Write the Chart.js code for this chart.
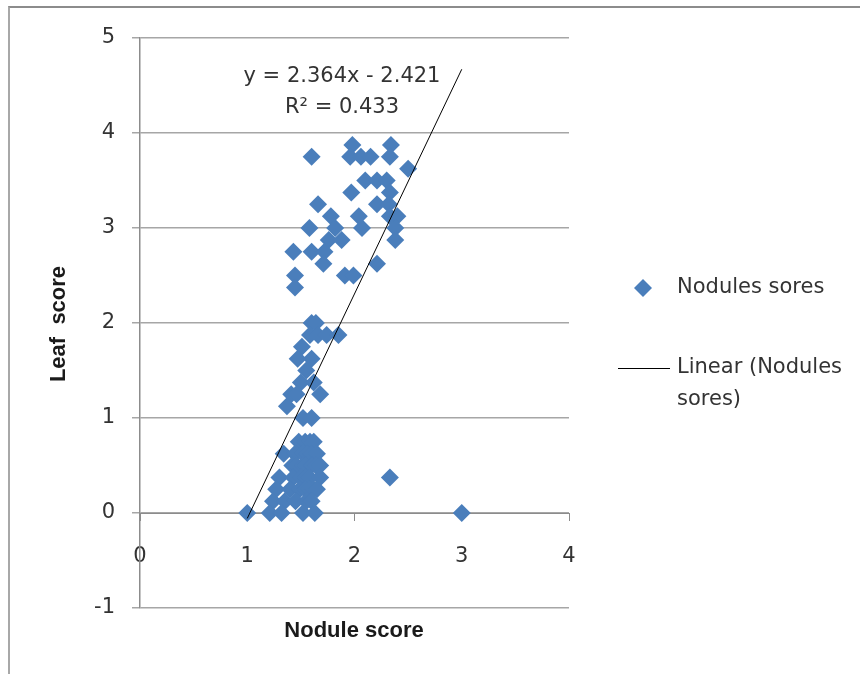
<!DOCTYPE html>
<html>
<head>
<meta charset="utf-8">
<script src="https://cdn.jsdelivr.net/npm/chart.js@4.4.1/dist/chart.umd.min.js"></script>
<style>
  html, body { margin: 0; padding: 0; background: #fff; }
  #wrap { position: relative; width: 860px; height: 674px; overflow: hidden; }
  #frame { position: absolute; left: 8px; top: 6px; width: 900px; height: 700px;
           border-top: 2px solid #8c8c8c; border-left: 2px solid #a8a8a8; }
  canvas { position: absolute; left: 0; top: 0; }
</style>
</head>
<body>
<div id="wrap">
  <div id="frame"></div>
  <canvas id="leafChart" width="860" height="674"></canvas>
</div>
<script>
// nodule score (x) and leaf score (y), one entry per plant
const nodeScore = [
  1.98, 2.34,
  1.60, 1.96, 2.06, 2.15, 2.33,
  2.50,
  2.10, 2.21, 2.30,
  1.97, 2.33,
  1.66, 2.21, 2.32,
  1.78, 2.04, 2.33, 2.40,
  1.58, 1.82, 2.07, 2.38,
  1.76, 1.88, 2.38,
  1.43, 1.60, 1.72,
  1.71, 2.21,
  1.445, 1.91, 1.99,
  1.445,
  1.60, 1.64,
  1.585, 1.66, 1.74, 1.85,
  1.51,
  1.47, 1.60,
  1.55,
  1.50, 1.62,
  1.41, 1.46, 1.68,
  1.37,
  1.52, 1.60,
  1.48, 1.54, 1.585, 1.62,
  1.34, 1.445, 1.52, 1.56, 1.60, 1.65,
  1.42, 1.46, 1.52, 1.55, 1.60, 1.64, 1.68,
  1.30, 1.43, 1.50, 1.55, 1.58, 1.68, 2.33,
  1.27, 1.40, 1.49, 1.54, 1.58, 1.62, 1.65,
  1.24, 1.35, 1.45, 1.55, 1.60,
  1.00, 1.21, 1.32, 1.52, 1.63, 3.00
];
const leafScore = [
  3.875, 3.875,
  3.75, 3.75, 3.75, 3.75, 3.75,
  3.625,
  3.5, 3.5, 3.5,
  3.375, 3.375,
  3.25, 3.25, 3.25,
  3.125, 3.125, 3.125, 3.125,
  3.0, 3.0, 3.0, 3.0,
  2.875, 2.875, 2.875,
  2.75, 2.75, 2.75,
  2.625, 2.625,
  2.5, 2.5, 2.5,
  2.375,
  2.0, 2.0,
  1.875, 1.875, 1.875, 1.875,
  1.75,
  1.625, 1.625,
  1.5,
  1.375, 1.375,
  1.25, 1.25, 1.25,
  1.125,
  1.0, 1.0,
  0.75, 0.75, 0.75, 0.75,
  0.625, 0.625, 0.625, 0.625, 0.625, 0.625,
  0.5, 0.5, 0.5, 0.5, 0.5, 0.5, 0.5,
  0.375, 0.375, 0.375, 0.375, 0.375, 0.375, 0.375,
  0.25, 0.25, 0.25, 0.25, 0.25, 0.25, 0.25,
  0.125, 0.125, 0.125, 0.125, 0.125,
  0, 0, 0, 0, 0, 0
];

// Excel trendline as printed on the chart
const trendSlope = 2.364;
const trendIntercept = -2.421;
const trendRSquared = 0.433;
const trendRange = [1, 3];

const xTicks = [0, 1, 2, 3, 4];
const yTicks = [-1, 0, 1, 2, 3, 4, 5];

const seriesName = 'Nodules sores';
const xTitle = 'Nodule score';
const yTitle = 'Leaf  score';

const blue = '#4a7ebb';
const gridGrey = '#a6a6a6';
const textGrey = '#333333';

const points = nodeScore.map((x, i) => ({ x: x, y: leafScore[i] }));
const trend = trendRange.map(x => ({ x: x, y: trendSlope * x + trendIntercept }));

const extras = {
  id: 'extras',
  afterDraw(chart) {
    const ctx = chart.ctx;
    ctx.save();
    ctx.fillStyle = textGrey;
    ctx.textBaseline = 'middle';

    // regression label
    ctx.font = '21px "DejaVu Sans"';
    ctx.textAlign = 'center';
    ctx.fillText('y = ' + trendSlope + 'x - ' + Math.abs(trendIntercept), 342, 77);
    ctx.fillText('R\u00b2 = ' + trendRSquared, 342, 108);

    // axis titles
    ctx.fillStyle = '#1a1a1a';
    ctx.font = 'bold 22px "Liberation Sans"';
    ctx.fillText(xTitle, 354, 631);
    ctx.save();
    ctx.translate(59, 324);
    ctx.rotate(-Math.PI / 2);
    ctx.fillText(yTitle, 0, 0);
    ctx.restore();

    // legend
    ctx.fillStyle = blue;
    Chart.helpers.drawPoint(ctx, { pointStyle: 'rectRot', radius: 9, borderWidth: 0 }, 643, 288);
    ctx.strokeStyle = '#000';
    ctx.lineWidth = 1;
    ctx.beginPath();
    ctx.moveTo(618, 368.5);
    ctx.lineTo(670, 368.5);
    ctx.stroke();
    ctx.fillStyle = textGrey;
    ctx.textAlign = 'left';
    ctx.font = '21px "DejaVu Sans"';
    ctx.fillText(seriesName, 677, 288);
    ctx.fillText('Linear (Nodules', 677, 368);
    ctx.fillText('sores)', 677, 400);
    ctx.restore();
  }
};

new Chart(document.getElementById('leafChart'), {
  type: 'scatter',
  data: {
    datasets: [{
      label: 'Linear (' + seriesName + ')',
      data: trend,
      type: 'line',
      showLine: true,
      borderColor: '#000',
      borderWidth: 1,
      pointRadius: 0,
      order: 0
    }, {
      label: seriesName,
      data: points,
      pointStyle: 'rectRot',
      pointRadius: 9,
      pointBorderWidth: 0,
      backgroundColor: blue,
      borderColor: blue,
      order: 1
    }]
  },
  options: {
    responsive: false,
    animation: false,
    layout: {
      padding: { left: 0, top: 38, right: 291, bottom: 66 }
    },
    plugins: {
      legend: { display: false },
      tooltip: { enabled: false }
    },
    scales: {
      x: {
        type: 'linear',
        position: { y: 0 },
        min: xTicks[0],
        max: xTicks[xTicks.length - 1],
        afterBuildTicks: (scale) => { scale.ticks = xTicks.map(v => ({ value: v })); },
        grid: {
          drawOnChartArea: false,
          drawTicks: true,
          tickLength: 7,
          color: '#8c8c8c'
        },
        border: { display: true, color: '#8c8c8c', width: 1 },
        ticks: {
          padding: 24,
          color: textGrey,
          font: { family: 'DejaVu Sans', size: 21 }
        }
      },
      y: {
        type: 'linear',
        min: yTicks[0],
        max: yTicks[yTicks.length - 1],
        afterBuildTicks: (scale) => { scale.ticks = yTicks.map(v => ({ value: v })); },
        afterFit: (scale) => { scale.width = 140; },
        grid: {
          color: gridGrey,
          lineWidth: 1.5,
          drawTicks: true,
          tickLength: 8
        },
        border: { display: true, color: '#8c8c8c', width: 1.5 },
        ticks: {
          padding: 17,
          color: textGrey,
          font: { family: 'DejaVu Sans', size: 21 }
        }
      }
    }
  },
  plugins: [extras]
});
</script>
</body>
</html>
